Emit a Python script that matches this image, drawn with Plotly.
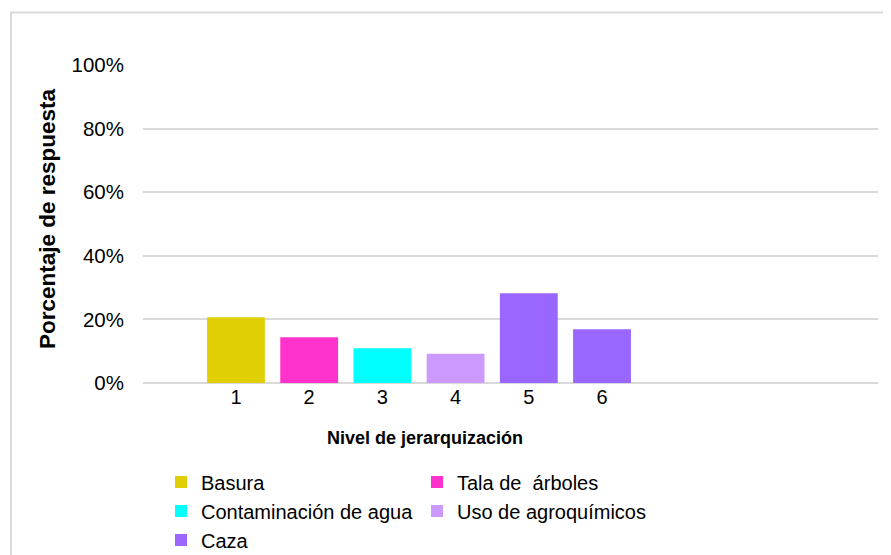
import plotly.graph_objects as go

categories = [1, 2, 3, 4, 5, 6]
values = [20.7, 14.4, 10.9, 9.2, 28.2, 16.9]
series_names = ["Basura", "Tala de\u00a0 árboles", "Contaminación de agua",
                "Uso de agroquímicos", "Caza", "Caza"]
colors = ["#E0CF04", "#FF33CC", "#00FFFF", "#CC99FF", "#9966FF", "#9966FF"]
y_ticks = [0, 20, 40, 60, 80, 100]
y_ticktext = ["0%", "20%", "40%", "60%", "80%", "100%"]

FONT = "Liberation Sans, Arial, sans-serif"

fig = go.Figure()
seen = set()
for c, v, n, col in zip(categories, values, series_names, colors):
    fig.add_trace(go.Bar(
        x=[c], y=[v], name=n, legendgroup=n,
        showlegend=n not in seen,
        marker=dict(color=col, line=dict(width=0)),
        width=0.79,
    ))
    seen.add(n)

# page has an 8px body margin; figure sized to fit the window exactly
OFF = 8
W, H = 891 - OFF, 555 - OFF
PL, PR, PT, PB = 143, 878, 65, 383  # plot area in page pixels
L, R, T, B = PL - OFF, W - (PR - OFF), PT - OFF, H - (PB - OFF)
gw, gh = W - L - R, H - T - B

def px(xp):
    return (xp - PL) / gw

def py(yp):
    return (PB - yp) / gh

fig.update_layout(
    width=W, height=H,
    margin=dict(l=L, r=R, t=T, b=B, autoexpand=False),
    paper_bgcolor="white", plot_bgcolor="white",
    font=dict(family=FONT, color="#000000"),
    barmode="overlay",
    xaxis=dict(
        range=[-0.27, 9.77],
        tickmode="array", tickvals=categories, ticktext=[str(c) for c in categories],
        showgrid=False, zeroline=False, showline=False,
        ticks="", tickfont=dict(size=20, family=FONT, color="#000000"),
    ),
    yaxis=dict(
        range=[0, 100],
        tickmode="array", tickvals=y_ticks, ticktext=y_ticktext,
        showgrid=True, gridcolor="#d9d9d9", gridwidth=1.5,
        zeroline=True, zerolinecolor="#d9d9d9", zerolinewidth=1.5,
        showline=False, ticks="", ticklabelstandoff=18,
        tickfont=dict(size=20.5, family=FONT, color="#000000"),
    ),
    legend=dict(
        orientation="h", x=px(161), xanchor="left", y=py(462.5), yanchor="top",
        entrywidth=211, entrywidthmode="pixels",
        font=dict(size=20, family=FONT, color="#000000"),
        bgcolor="rgba(0,0,0,0)", traceorder="normal",
    ),
    annotations=[
        dict(text="<b>Nivel de jerarquización</b>", xref="paper", yref="paper",
             x=px(425), y=py(438), xanchor="center", yanchor="middle",
             showarrow=False, font=dict(size=18, family=FONT, color="#000000")),
        dict(text="<b>Porcentaje de respuesta</b>", xref="paper", yref="paper",
             x=px(47), y=py(218), xanchor="center", yanchor="middle", textangle=-90,
             showarrow=False, font=dict(size=22.5, family=FONT, color="#000000")),
    ],
    shapes=[
        dict(type="rect", xref="paper", yref="paper",
             x0=px(11), x1=px(905), y0=py(575), y1=py(12.5),
             line=dict(color="#d9d9d9", width=2), fillcolor="rgba(0,0,0,0)",
             layer="below"),
    ],
    showlegend=True,
)

fig.write_html("out.html")
